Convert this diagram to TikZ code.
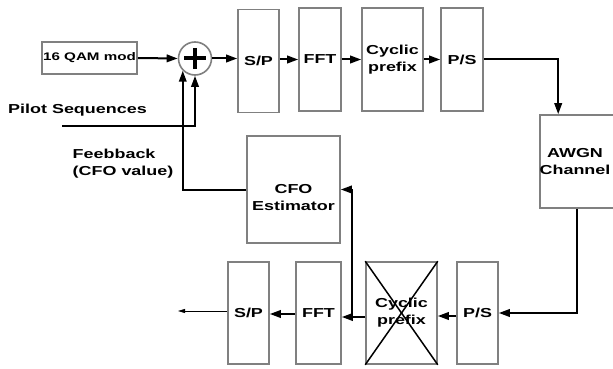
\documentclass[tikz,border=0pt]{standalone}
\usepackage{fontspec}
\newfontfamily\labfont[FakeStretch=1.38]{Liberation Sans}
\usetikzlibrary{arrows.meta,calc}
\newcommand\lblfont{\labfont\bfseries\fontsize{13pt}{17pt}\selectfont}
\newcommand\smlfont{\labfont\bfseries\fontsize{11pt}{14pt}\selectfont}
\definecolor{boxgray}{RGB}{128,128,128}
\begin{document}
\begin{tikzpicture}[x=1pt,y=-1pt,
  box/.style={draw=boxgray, line width=1.6pt, fill=white, inner sep=0pt, font=\lblfont, align=center},
  lbl/.style={font=\lblfont, align=center, inner sep=0pt},
  arr/.style={line width=2pt, -{Triangle[length=11pt,width=7.5pt]}},
  thinarr/.style={line width=0.8pt, -{Triangle[length=7pt,width=4pt]}}]
\fill[white] (0,0) rectangle (613,369);
\useasboundingbox (0,0) rectangle (613,369);
\clip (0,0) rectangle (613,369);
% upper row
\node[box, font=\smlfont, minimum width=95pt, minimum height=32pt] (qam) at (89.5,58) {16 QAM mod};
\node[draw=boxgray, line width=1.6pt, circle, minimum size=33pt, inner sep=0pt] (sum) at (195,58.5) {};
\draw[line width=4pt] ($(sum.center)+(-11,0)$) -- ($(sum.center)+(11,0)$);
\draw[line width=4pt] ($(sum.center)+(0,-10.5)$) -- ($(sum.center)+(0,10.5)$);
\node[box, minimum width=41pt, minimum height=103pt] (sp1) at (258.5,61) {S/P};
\node[box, minimum width=42pt, minimum height=103pt] (fft1) at (320,59.5) {FFT};
\node[box, minimum width=61pt, minimum height=103pt] (cp1) at (392.5,59.5) {Cyclic\\prefix};
\node[box, minimum width=42pt, minimum height=103pt] (ps1) at (462,59.5) {P/S};
% channel
\node[box, minimum width=78pt, minimum height=93pt,
  label={[lbl, xshift=-4pt]center:AWGN\\Channel}] (awgn) at (579,161.5) {};
% estimator
\node[box, minimum width=93pt, minimum height=107pt,
  label={[lbl, yshift=-8.5pt]center:CFO\\Estimator}] (cfo) at (293.5,189.5) {};
% lower row
\node[box, minimum width=41pt, minimum height=102pt] (ps2) at (477.5,313) {P/S};
\node[box, minimum width=71pt, minimum height=102pt] (cp2) at (401.5,313) {};
\draw[line width=1.5pt] (cp2.north west) -- (cp2.south east);
\draw[line width=1.5pt] (cp2.north east) -- (cp2.south west);
\node[lbl] (cp2t) at (cp2.center) {Cyclic\\prefix};
\node[box, minimum width=45pt, minimum height=102pt] (fft2) at (318.5,313) {FFT};
\node[box, minimum width=41pt, minimum height=102pt] (sp2) at (248.5,313) {S/P};
% texts
\node[lbl, anchor=center] (pilot) at (77.5,110) {Pilot Sequences};
\node[lbl, align=left, anchor=west] (fbk) at (72.5,164) {Feebback\\(CFO value)};
% coordinates
\coordinate (pl) at (62,126);
\coordinate (br) at (352,317);
\coordinate (out) at (178,311);
% connectors upper
\draw[arr] (qam.east) -- (sum.west);
\draw[arr] (sum.east) -- (sum.east -| sp1.west);
\draw[arr] (sp1.east |- fft1.west) -- (fft1.west);
\draw[arr] (fft1.east) -- (cp1.west);
\draw[arr] (cp1.east) -- (ps1.west);
\draw[arr] (pl) -| (sum.south);
\draw[arr] (cfo.west) -| (sum.south west);
\draw[arr] (ps1.east) -| ($(awgn.north west)+(19,0)$);
% connectors lower
\draw[arr] ($(awgn.south west)+(38,0)$) |- (ps2.east);
\draw[arr] (ps2.west |- 0,316) -- (cp2.east |- 0,316);
\draw[arr] (cp2.west |- br) -- (fft2.east |- br);
\draw[arr] (br) |- (cfo.east);
\draw[arr] (fft2.west |- 0,314) -- (sp2.east |- 0,314);
\draw[thinarr] (sp2.west |- out) -- (out);
\end{tikzpicture}
\end{document}
